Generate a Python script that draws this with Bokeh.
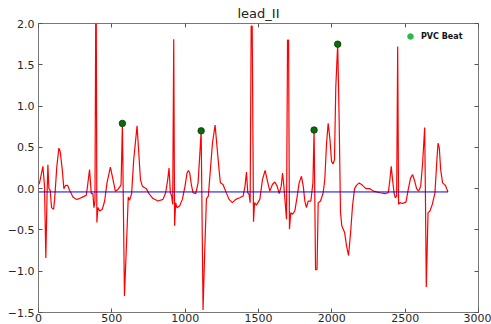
from bokeh.plotting import figure
from bokeh.models import (LinearAxis, FixedTicker, CustomJSTickFormatter, Range1d,
                          Legend, LegendItem)
from bokeh.embed import file_html
from bokeh.resources import INLINE

# ---- data ----
ecg_x = [0, 7, 30, 41, 50, 59, 64, 71, 80, 89, 103, 110, 125, 139, 148, 162, 173, 185, 198,
         212, 235, 258, 280, 303, 326, 337, 348, 360, 371, 378, 385, 390, 394, 398, 405,
         417, 435, 451, 467, 490, 508, 524, 542, 558, 563, 572, 586, 603, 612, 621, 635,
         649, 672, 681, 695, 708, 735, 753, 781, 815, 849, 867, 881, 890, 899, 908, 915,
         922, 928, 935, 944, 962, 981, 999, 1013, 1022, 1031, 1042, 1054, 1072, 1088, 1099,
         1109, 1122, 1133, 1145, 1158, 1172, 1186, 1204, 1217, 1231, 1240, 1258, 1276, 1299,
         1322, 1345, 1372, 1395, 1408, 1418, 1427, 1436, 1443, 1450, 1457, 1466, 1473, 1486,
         1509, 1527, 1545, 1559, 1577, 1595, 1611, 1627, 1641, 1655, 1664, 1673, 1682, 1691,
         1698, 1705, 1711, 1720, 1732, 1748, 1764, 1777, 1793, 1805, 1816, 1827, 1839, 1857,
         1871, 1879, 1889, 1899, 1907, 1923, 1941, 1952, 1964, 1975, 1987, 1998, 2009, 2018,
         2027, 2040, 2050, 2059, 2068, 2087, 2100, 2114, 2128, 2141, 2155, 2168, 2187, 2209,
         2232, 2260, 2283, 2305, 2328, 2362, 2385, 2396, 2405, 2414, 2424, 2433, 2442, 2449,
         2455, 2464, 2483, 2506, 2521, 2537, 2551, 2565, 2578, 2592, 2606, 2619, 2633, 2638,
         2644, 2656, 2669, 2685, 2703, 2715, 2724, 2733, 2742, 2755, 2774, 2783, 2792]
ecg_y = [0.05, 0.07, 0.27, 0.03, -0.84, -0.02, 0.29, 0.0, -0.02, -0.23, -0.25, -0.13, 0.27,
         0.49, 0.45, 0.23, 0.0, 0.04, 0.04, -0.02, -0.10, -0.13, -0.12, -0.10, -0.08, 0.07,
         0.23, -0.06, -0.06, -0.23, -0.15, 2.0, 2.0, -0.41, -0.23, -0.27, -0.25, -0.15, 0.07,
         0.26, 0.11, -0.03, -0.01, 0.03, 0.05, 0.79, -1.30, -0.53, -0.10, -0.14, -0.06, 0.35,
         0.76, 0.51, 0.11, 0.03, 0.0, -0.06, -0.12, -0.15, -0.13, -0.05, 0.11, 0.25, -0.05,
         -0.09, -0.19, 1.81, -0.45, -0.17, -0.23, -0.21, -0.13, 0.03, 0.19, 0.22, 0.19, 0.05,
         -0.05, -0.06, 0.07, 0.39, 0.70, -1.47, -0.78, -0.12, -0.09, 0.23, 0.55, 0.77, 0.51,
         0.23, 0.07, 0.05, -0.03, -0.13, -0.17, -0.13, -0.11, -0.09, 0.03, 0.20, -0.05, -0.07,
         -0.17, 1.97, 1.97, -0.40, -0.17, -0.20, -0.13, 0.11, 0.22, 0.11, -0.03, 0.05, 0.08,
         0.03, -0.06, 0.03, 0.19, 0.03, -0.17, -0.37, 1.80, 1.80, -0.49, -0.29, -0.31, -0.27,
         -0.09, 0.07, 0.15, 0.03, -0.15, -0.23, -0.15, -0.15, 0.07, 0.71, -0.98, -0.98, -0.17,
         -0.15, -0.05, 0.11, 0.55, 0.79, 0.60, 0.33, 0.30, 0.35, 1.23, 1.75, 0.82, -0.29,
         -0.45, -0.53, -0.69, -0.81, -0.53, -0.21, 0.0, 0.04, 0.07, 0.04, 0.0, 0.0, -0.03,
         -0.04, -0.05, -0.06, -0.05, 0.11, 0.27, 0.11, -0.05, -0.11, -0.09, 1.72, -0.19,
         -0.17, -0.18, -0.16, -0.01, 0.13, 0.17, 0.09, 0.0, -0.03, 0.03, 0.31, 0.74, -0.05,
         -1.19, -0.29, -0.27, -0.19, -0.05, 0.31, 0.55, 0.49, 0.23, 0.07, 0.04, 0.0, -0.04]

pvc_x = [572, 1109, 1879, 2040]
pvc_y = [0.79, 0.70, 0.71, 1.75]

baseline_level = -0.04

x_ticks = [0, 500, 1000, 1500, 2000, 2500, 3000]
y_ticks = [-1.5, -1.0, -0.5, 0.0, 0.5, 1.0, 1.5, 2.0]

# ---- figure ----
p = figure(width=491, height=324, x_range=Range1d(0, 3000), y_range=Range1d(-1.5, 2.0),
           output_backend="svg", toolbar_location=None, title="lead_II",
           min_border_left=38, min_border_right=13, min_border_top=0, min_border_bottom=0)
p.background_fill_color = "white"
p.border_fill_color = "white"
p.grid.visible = False
p.outline_line_color = "#777777"
p.outline_line_width = 1

p.title.text_font = "DejaVu Sans"
p.title.text_font_size = "13px"
p.title.text_font_style = "normal"
p.title.text_color = "#222222"
p.title.align = "center"
p.title.standoff = 6

ytf = CustomJSTickFormatter(code="return tick.toFixed(1).replace('-', '\\u2212')")

def style_axis(ax, ticks, show_labels):
    ax.ticker = FixedTicker(ticks=ticks)
    ax.axis_line_color = None
    ax.major_tick_in = 4
    ax.major_tick_out = 0
    ax.minor_tick_line_color = None
    ax.major_tick_line_color = "#555555"
    ax.major_label_text_font = "DejaVu Sans"
    ax.major_label_text_color = "#262626"
    if show_labels:
        ax.major_label_text_font_size = "11px"
    else:
        ax.major_label_text_font_size = "0px"
        ax.major_label_text_color = None
        ax.major_label_standoff = 0

style_axis(p.xaxis[0], x_ticks, True)
p.xaxis[0].major_label_standoff = 1
style_axis(p.yaxis[0], y_ticks, True)
p.yaxis[0].major_label_standoff = 4
p.yaxis[0].formatter = ytf

top_ax = LinearAxis()
style_axis(top_ax, x_ticks, False)
p.add_layout(top_ax, "above")
right_ax = LinearAxis()
style_axis(right_ax, y_ticks, False)
p.add_layout(right_ax, "right")

# ---- glyphs ----
p.line(ecg_x, ecg_y, line_color="red", line_width=1.2)
p.line([0, max(ecg_x)], [baseline_level, baseline_level], line_color="blue", line_width=1.0)
leg_r = p.scatter(pvc_x, pvc_y, size=5, fill_color="#2db84c", line_color="#2db84c")
p.scatter(pvc_x, pvc_y, size=6.5, fill_color="#0b6b0b", line_color="#054005", line_width=0.8)

legend = Legend(items=[LegendItem(label="PVC Beat", renderers=[leg_r])],
                location="top_right", margin=2, padding=4,
                glyph_width=14, glyph_height=14, label_height=14, label_width=51,
                label_standoff=4, label_text_font="DejaVu Sans", label_text_font_size="8px",
                label_text_font_style="bold", label_text_color="#111111",
                background_fill_alpha=0, border_line_alpha=0)
p.add_layout(legend, "center")

open("out.html", "w").write(file_html(p, INLINE))
